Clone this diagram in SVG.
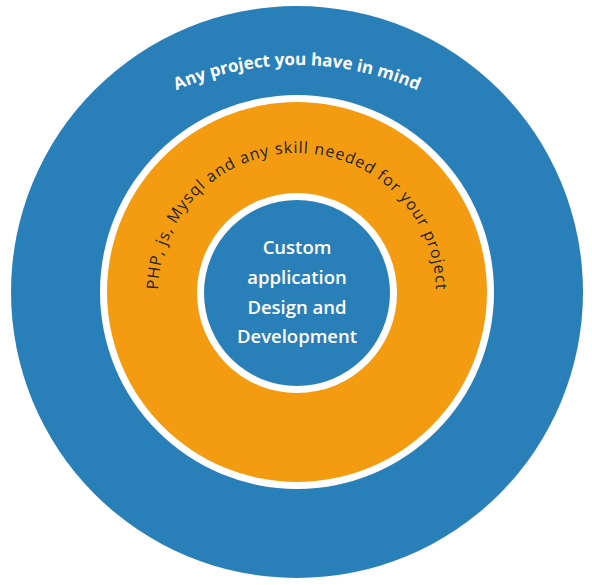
<svg xmlns="http://www.w3.org/2000/svg" width="592" height="585" viewBox="0 0 592 585">
<style>
.blue{fill:#2980b9}
.orange{fill:#f39c12}
.white{fill:#ffffff}
.outer-t{font-family:"Open Sans","Noto Sans",sans-serif;font-weight:700;font-size:17px;fill:#ffffff;letter-spacing:0px}
.mid-t{font-family:"Open Sans","Noto Sans",sans-serif;font-weight:500;font-size:16px;fill:#222222}
.in-t{font-family:"Open Sans","Noto Sans",sans-serif;font-weight:600;font-size:18.5px;fill:#ffffff;text-anchor:middle}
</style>
<defs>
<path id="outerArc" d="M 67.2 172.2 A 300 300 0 0 1 526.8 172.2"/>
<path id="midArc" d="M 158 292 A 139 139 0 0 1 436 292"/>
</defs>
<rect width="592" height="585" fill="#ffffff"/>
<g id="outer-ring">
<circle class="blue" cx="297" cy="292" r="286"/>
<text class="outer-t"><textPath href="#outerArc" startOffset="50%" text-anchor="middle">Any project you have in mind</textPath></text>
</g>
<g id="middle-ring">
<circle class="white" cx="297" cy="292" r="197"/>
<circle class="orange" cx="297" cy="292" r="190"/>
<text class="mid-t"><textPath href="#midArc" startOffset="50%" text-anchor="middle" textLength="432" lengthAdjust="spacing">PHP, js, Mysql and any skill needed for your project</textPath></text>
</g>
<g id="core">
<circle class="white" cx="297" cy="293" r="100"/>
<circle class="blue" cx="297" cy="293" r="93"/>
<text class="in-t" x="297" y="254">Custom</text>
<text class="in-t" x="297" y="284">application</text>
<text class="in-t" x="297" y="314">Design and</text>
<text class="in-t" x="297" y="343">Development</text>
</g>
</svg>
